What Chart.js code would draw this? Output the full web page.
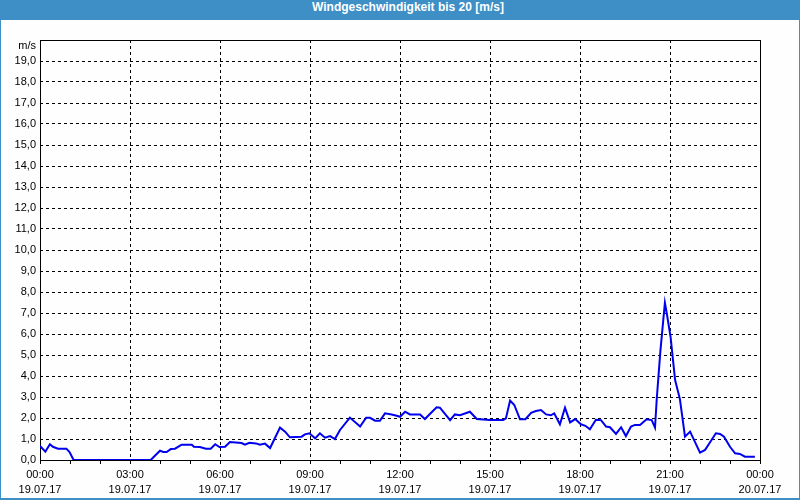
<!DOCTYPE html>
<html>
<head>
<meta charset="utf-8">
<script src="https://cdn.jsdelivr.net/npm/chart.js@4"></script>
<style>
  html, body { margin: 0; padding: 0; background: #ffffff; }
  #frame { position: relative; width: 800px; height: 500px; box-sizing: border-box; background: #3d8fc6; padding: 0 1px 2px 1px; }
  #title { height: 20px; line-height: 20px; color: #ffffff; font: bold 12px "Liberation Sans", Arial, sans-serif; text-align: center; padding-left: 16px; box-sizing: border-box; }
  #wrap { width: 798px; height: 478px; background: #fdfefd; }
</style>
</head>
<body>
<div id="frame">
  <div id="title">Windgeschwindigkeit bis 20 [m/s]</div>
  <div id="wrap"><canvas id="c" width="798" height="478"></canvas></div>
</div>
<script>
// Time of each reading, in hours after 19.07.17 00:00
const hours = [
  0.00, 0.18, 0.33, 0.43, 0.60, 0.88, 0.99, 1.12, 3.69, 4.00,
  4.11, 4.22, 4.36, 4.50, 4.72, 5.06, 5.13, 5.33, 5.53, 5.69,
  5.84, 5.98, 6.17, 6.33, 6.72, 6.83, 6.98, 7.20, 7.33, 7.50,
  7.67, 8.00, 8.17, 8.33, 8.72, 8.83, 8.98, 9.17, 9.33, 9.50,
  9.67, 9.83, 10.00, 10.33, 10.67, 10.87, 11.00, 11.17, 11.33, 11.50,
  11.72, 11.89, 12.00, 12.17, 12.33, 12.67, 12.83, 13.22, 13.33, 13.67,
  13.83, 14.00, 14.33, 14.56, 15.00, 15.44, 15.53, 15.67, 15.81, 16.00,
  16.18, 16.37, 16.53, 16.70, 16.87, 17.03, 17.14, 17.33, 17.50, 17.67,
  17.84, 18.03, 18.18, 18.33, 18.53, 18.70, 18.87, 19.00, 19.20, 19.37,
  19.53, 19.70, 19.83, 20.00, 20.22, 20.39, 20.50, 20.56, 20.68, 20.83,
  20.89, 21.02, 21.17, 21.33, 21.50, 21.67, 22.00, 22.17, 22.33, 22.53,
  22.67, 22.80, 23.00, 23.17, 23.33, 23.50, 23.83
];
// Wind speed in m/s
const speeds = [
  0.67, 0.40, 0.75, 0.63, 0.54, 0.54, 0.37, 0.00, 0.00, 0.44,
  0.38, 0.38, 0.52, 0.54, 0.73, 0.73, 0.63, 0.62, 0.54, 0.54,
  0.75, 0.62, 0.63, 0.86, 0.81, 0.73, 0.82, 0.79, 0.73, 0.78,
  0.57, 1.54, 1.35, 1.08, 1.11, 1.22, 1.27, 1.03, 1.27, 1.06,
  1.14, 1.00, 1.43, 2.02, 1.59, 2.01, 2.01, 1.87, 1.87, 2.22,
  2.17, 2.11, 2.06, 2.30, 2.17, 2.17, 1.95, 2.51, 2.49, 1.90,
  2.17, 2.13, 2.30, 1.95, 1.90, 1.90, 1.98, 2.83, 2.62, 1.94,
  1.94, 2.25, 2.33, 2.38, 2.17, 2.13, 2.22, 1.70, 2.49, 1.79,
  1.95, 1.70, 1.63, 1.46, 1.92, 1.90, 1.59, 1.56, 1.24, 1.56,
  1.14, 1.59, 1.67, 1.67, 1.94, 1.90, 1.54, 2.94, 5.20, 7.49,
  7.00, 5.85, 3.81, 2.90, 1.11, 1.35, 0.35, 0.48, 0.83, 1.27,
  1.24, 1.11, 0.63, 0.32, 0.29, 0.16, 0.16
];
// Tick labels of the time axis (every 3 hours)
const tickTimes = ['00:00', '03:00', '06:00', '09:00', '12:00', '15:00', '18:00', '21:00', '00:00'];
const tickDates = ['19.07.17', '19.07.17', '19.07.17', '19.07.17', '19.07.17', '19.07.17', '19.07.17', '19.07.17', '20.07.17'];
const yUnit = 'm/s';

const FONT = "'Liberation Sans', Arial, sans-serif";

const boxPlugin = {
  id: 'box',
  beforeDatasetsDraw(chart) {
    const { ctx, chartArea: a } = chart;
    ctx.save();
    ctx.strokeStyle = '#000';
    ctx.lineWidth = 1;
    ctx.setLineDash([]);
    ctx.strokeRect(Math.round(a.left) + 0.5, Math.round(a.top) + 0.5, Math.round(a.right - a.left), Math.round(a.bottom - a.top));
    ctx.restore();
  },
  afterDraw(chart) {
    const { ctx, chartArea: a } = chart;
    ctx.save();
    ctx.fillStyle = '#000';
    ctx.font = '11px ' + FONT;
    ctx.textAlign = 'right';
    ctx.textBaseline = 'middle';
    ctx.fillText(yUnit, a.left - 4, a.top + 6);
    ctx.restore();
  }
};

new Chart(document.getElementById('c'), {
  type: 'line',
  data: {
    datasets: [{
      data: hours.map((h, i) => ({ x: h, y: speeds[i] })),
      borderColor: '#0000ee',
      borderWidth: 2,
      pointRadius: 0,
      tension: 0,
      fill: false
    }]
  },
  plugins: [boxPlugin],
  options: {
    responsive: false,
    animation: false,
    events: [],
    layout: { padding: { top: 20, right: 39, left: 0, bottom: 0 } },
    plugins: { legend: { display: false }, title: { display: false }, tooltip: { enabled: false } },
    scales: {
      x: {
        type: 'linear',
        min: 0,
        max: 24,
        afterFit(s) { s.height = 38; },
        border: { display: false, dash: [3, 3] },
        grid: {
          color: c => (c.tick && c.tick.value % 3 === 0 && c.tick.value > 0 && c.tick.value < 24) ? '#000' : 'rgba(0,0,0,0)',
          tickColor: '#000',
          tickLength: 4,
          lineWidth: 1,
          drawTicks: true
        },
        ticks: {
          stepSize: 1,
          autoSkip: false,
          maxRotation: 0,
          padding: 3,
          color: '#000',
          font: { family: FONT, size: 11, lineHeight: '15px' },
          callback: v => (v % 3 === 0) ? [tickTimes[v / 3], tickDates[v / 3]] : ''
        }
      },
      y: {
        min: 0,
        max: 20,
        afterFit(s) { s.width = 39; },
        border: { display: false, dash: [3, 3] },
        grid: {
          color: c => (c.tick && c.tick.value > 0 && c.tick.value < 20) ? '#000' : 'rgba(0,0,0,0)',
          drawTicks: false,
          lineWidth: 1
        },
        ticks: {
          stepSize: 1,
          autoSkip: false,
          padding: 4,
          color: '#000',
          font: { family: FONT, size: 11 },
          callback: v => (v >= 20) ? '' : v.toFixed(1).replace('.', ',')
        }
      }
    }
  }
});
</script>
</body>
</html>
